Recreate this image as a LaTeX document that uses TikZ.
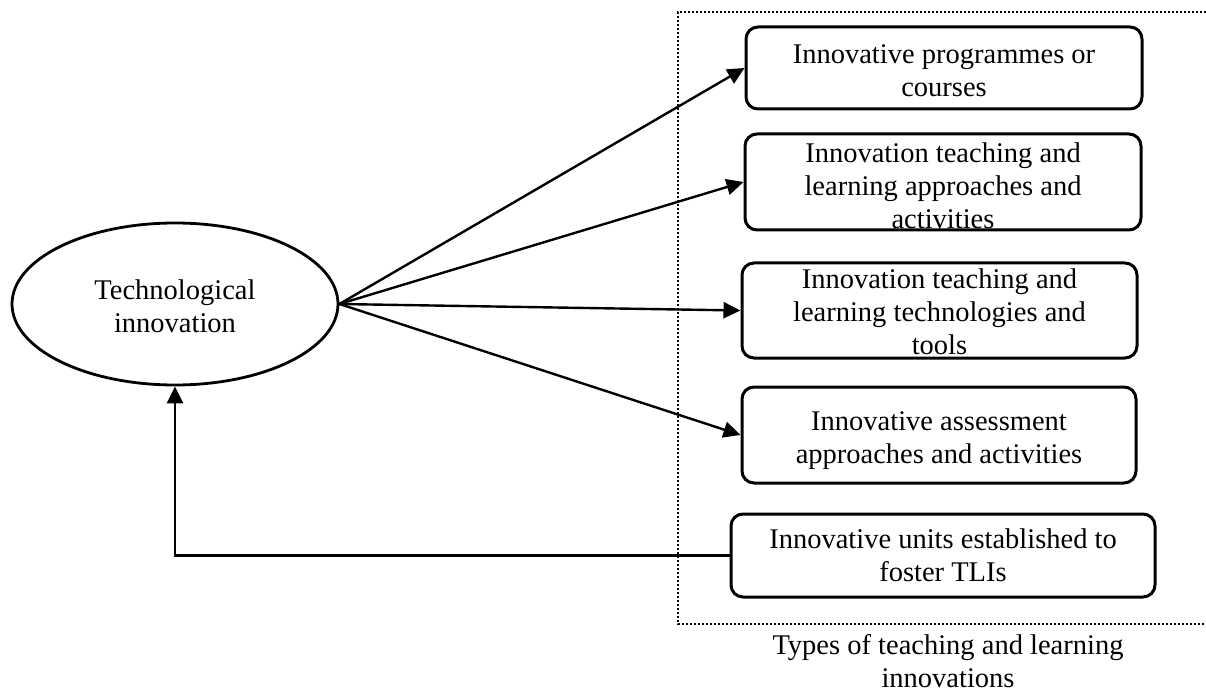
\documentclass[tikz,border=0pt]{standalone}
\usepackage{fontspec}
\setmainfont{Liberation Serif}
\usetikzlibrary{shapes.geometric,arrows.meta,calc}
\begin{document}
\begin{tikzpicture}[x=1pt,y=-1pt,
  every node/.style={font=\fontsize{28.5}{33}\selectfont, align=center, inner sep=0pt},
  box/.style={draw, line width=3pt, rounded corners=12pt},
  oval/.style={draw, ellipse, line width=2.8pt},
  link/.style={line width=2.4pt, -{Triangle[length=17pt,width=16pt]}},
  frame/.style={dotted, line width=2pt}]
\useasboundingbox (0,0) rectangle (1206,692);

% central concept
\node[oval, minimum width=326pt, minimum height=162pt] (ell) at (175,304) {};
\node (lbl) at ($(ell)+(0,2)$) {Technological\\innovation};

% innovation type boxes
\node[box, minimum width=396pt, minimum height=82pt] (b1) at (944,68) {};
\node[box, minimum width=396pt, minimum height=96pt] (b2) at (943,182) {};
\node[box, minimum width=395pt, minimum height=95pt] (b3) at (939.5,310.5) {};
\node[box, minimum width=394pt, minimum height=96pt] (b4) at (939,435) {};
\node[box, minimum width=424pt, minimum height=83pt] (b5) at (943,555.5) {};

% box captions
\node (t1) at ($(b1)+(0,3)$) {Innovative programmes or\\courses};
\node (t2) at ($(b2)+(0,4)$) {Innovation teaching and\\learning approaches and\\activities};
\node (t3) at ($(b3)+(0,1)$) {Innovation teaching and\\learning technologies and\\tools};
\node (t4) at ($(b4)+(0,6)$) {Innovative assessment\\approaches and activities};
\node (t5) at ($(b5)+(0,0)$) {Innovative units established to\\foster TLIs};

% dotted grouping frame (open on the right)
\coordinate (fTR) at (1210,12);
\coordinate (fTL) at (678,12);
\coordinate (fBL) at (678,624);
\coordinate (fBR) at (1210,624);
\draw[frame] (fTR) -- (fTL) -- (fBL) -- (fBR);
\node (cap) at (948,661) {Types of teaching and learning\\innovations};

% connectors
\draw[link] (ell.east) -- (b1.west);
\draw[link] (ell.east) -- (b2.west);
\draw[link] (ell.east) -- (b3.west);
\draw[link] (ell.east) -- (b4.west);
\draw[link] (b5.west) -| (ell.south);
\end{tikzpicture}
\end{document}
